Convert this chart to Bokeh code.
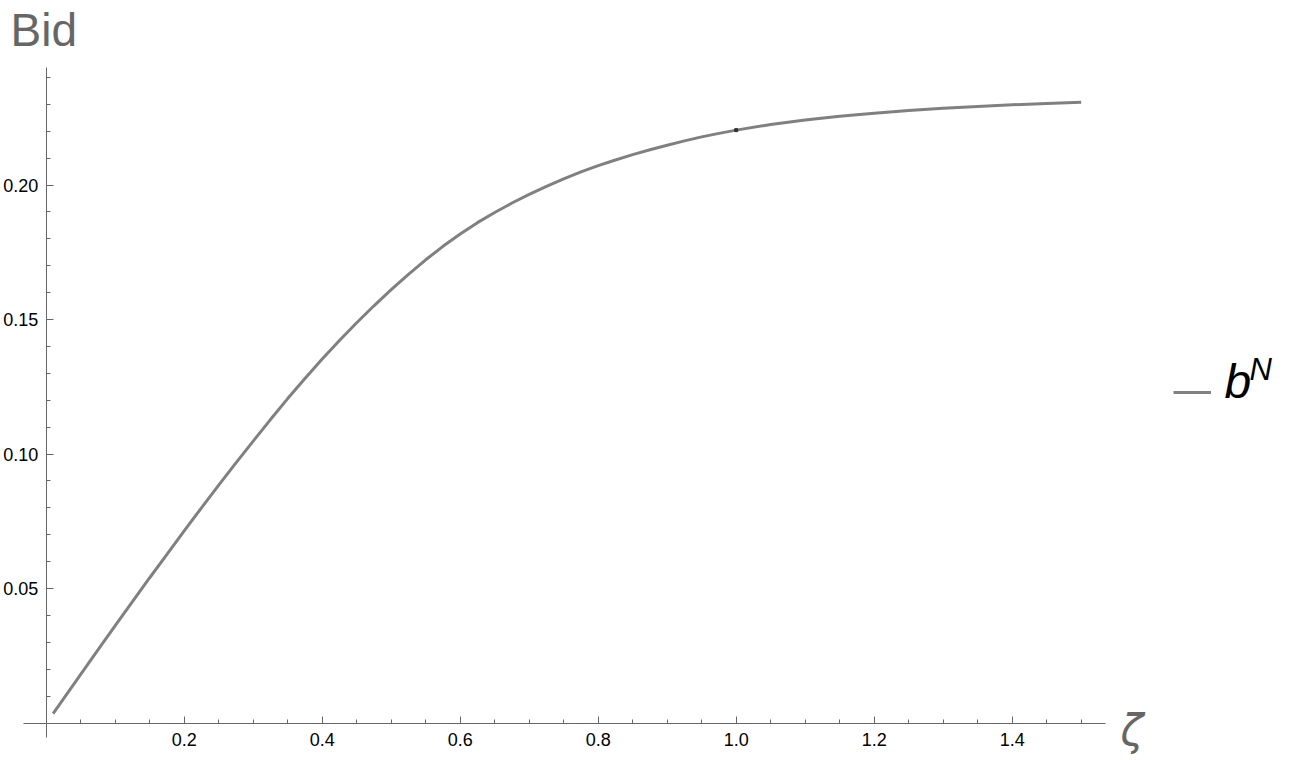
from bokeh.plotting import figure
from bokeh.models import Range1d, FixedTicker, Label, Legend, LegendItem
from bokeh.embed import file_html
from bokeh.resources import INLINE

# ---- data ----
zeta = [0.01, 0.025, 0.05, 0.075, 0.10, 0.125, 0.15, 0.175, 0.20, 0.225, 0.25, 0.275,
        0.30, 0.325, 0.35, 0.375, 0.40, 0.425, 0.45, 0.475, 0.50, 0.525, 0.55, 0.575,
        0.60, 0.625, 0.65, 0.675, 0.70, 0.725, 0.75, 0.775, 0.80, 0.825, 0.85, 0.875,
        0.90, 0.925, 0.95, 0.975, 1.00, 1.05, 1.10, 1.15, 1.20, 1.25, 1.30, 1.35,
        1.40, 1.45, 1.50]
bid = [0.0035, 0.0090, 0.0181, 0.0272, 0.0362, 0.0451, 0.0540, 0.0627, 0.0714, 0.0800,
       0.0884, 0.0967, 0.1048, 0.1128, 0.1206, 0.1281, 0.1353, 0.1422, 0.1488, 0.1551,
       0.1611, 0.1668, 0.1722, 0.1772, 0.1818, 0.1860, 0.1898, 0.1933, 0.1965, 0.1995,
       0.2023, 0.2049, 0.2072, 0.2093, 0.2113, 0.2131, 0.2148, 0.2164, 0.2179, 0.2192,
       0.2204, 0.2225, 0.2242, 0.2256, 0.2267, 0.2277, 0.2285, 0.2292, 0.2298, 0.2303,
       0.2308]
mark_x = [1.00]
mark_y = [bid[zeta.index(1.00)]]

x_ticks = [0.2, 0.4, 0.6, 0.8, 1.0, 1.2, 1.4]
x_tick_labels = ["0.2", "0.4", "0.6", "0.8", "1.0", "1.2", "1.4"]
x_minor = [0.05, 0.1, 0.15, 0.25, 0.3, 0.35, 0.45, 0.5, 0.55, 0.65, 0.7, 0.75,
           0.85, 0.9, 0.95, 1.05, 1.1, 1.15, 1.25, 1.3, 1.35, 1.45, 1.5]
y_ticks = [0.05, 0.10, 0.15, 0.20]
y_tick_labels = ["0.05", "0.10", "0.15", "0.20"]
y_minor = [0.01, 0.02, 0.03, 0.04, 0.06, 0.07, 0.08, 0.09, 0.11, 0.12, 0.13, 0.14,
           0.16, 0.17, 0.18, 0.19, 0.21, 0.22, 0.23, 0.24]

W, H = 1290, 760
FONT = "Liberation Sans"
AXIS_GRAY = "#666666"
CURVE_GRAY = "#808080"

p = figure(width=W, height=H, output_backend="svg", toolbar_location=None,
           x_range=Range1d(-0.06623, 1.80333), y_range=Range1d(-0.01394, 0.26859),
           min_border=0, min_border_left=0, min_border_right=0,
           min_border_top=0, min_border_bottom=0)
p.outline_line_color = None
p.xgrid.visible = False
p.ygrid.visible = False
p.background_fill_color = "white"
p.border_fill_color = "white"

# axes crossing at the origin
xa = p.xaxis[0]
ya = p.yaxis[0]
xa.fixed_location = 0
ya.fixed_location = 0
xa.bounds = (-0.0329, 1.5352)
ya.bounds = (-0.00528, 0.2437)
xa.ticker = FixedTicker(ticks=x_ticks, minor_ticks=x_minor)
ya.ticker = FixedTicker(ticks=y_ticks, minor_ticks=y_minor)
xa.major_label_overrides = {t: l for t, l in zip(x_ticks, x_tick_labels)}
ya.major_label_overrides = {t: l for t, l in zip(y_ticks, y_tick_labels)}
for ax in (xa, ya):
    ax.axis_line_color = AXIS_GRAY
    ax.axis_line_width = 1
    ax.major_tick_line_color = AXIS_GRAY
    ax.minor_tick_line_color = AXIS_GRAY
    ax.major_tick_in = 7
    ax.major_tick_out = 0
    ax.minor_tick_in = 4
    ax.minor_tick_out = 0
    ax.major_label_text_font = FONT
    ax.major_label_text_font_size = "18px"
    ax.major_label_text_color = "black"
xa.major_label_standoff = 10
ya.major_label_standoff = 8

curve = p.line(zeta, bid, line_width=3, line_color=CURVE_GRAY)
p.scatter(mark_x, mark_y, marker="square", size=3, color="#333333")

# axis label "Bid" at top left
p.add_layout(Label(x=10, y=H - 29.5, x_units="screen", y_units="screen", text="Bid",
                   text_font=FONT, text_font_size="46px", text_color=AXIS_GRAY,
                   text_baseline="middle", text_align="left"))
# horizontal axis label
p.add_layout(Label(x=1120, y=H - 730, x_units="screen", y_units="screen", text="ζ",
                   text_font="DejaVu Sans", text_font_size="42px", text_font_style="italic",
                   text_color=AXIS_GRAY, text_baseline="middle", text_align="left"))

# legend: line key plus italic b with superscript N
legend = Legend(items=[LegendItem(label=" ", renderers=[curve])], location=(1173, H - 392 - 10),
                glyph_width=38, glyph_height=20, label_height=20, label_width=0,
                label_standoff=0, padding=0, margin=0, spacing=0,
                label_text_font_size="10px", border_line_color=None,
                background_fill_alpha=0)
p.add_layout(legend, "center")
p.add_layout(Label(x=1224, y=H - 381, x_units="screen", y_units="screen", text="b",
                   text_font=FONT, text_font_size="48px", text_font_style="italic",
                   text_color="black", text_baseline="middle", text_align="left"))
p.add_layout(Label(x=1249, y=H - 369, x_units="screen", y_units="screen", text="N",
                   text_font=FONT, text_font_size="31px", text_font_style="italic",
                   text_color="black", text_baseline="middle", text_align="left"))

open("out.html", "w").write(file_html(p, INLINE))
